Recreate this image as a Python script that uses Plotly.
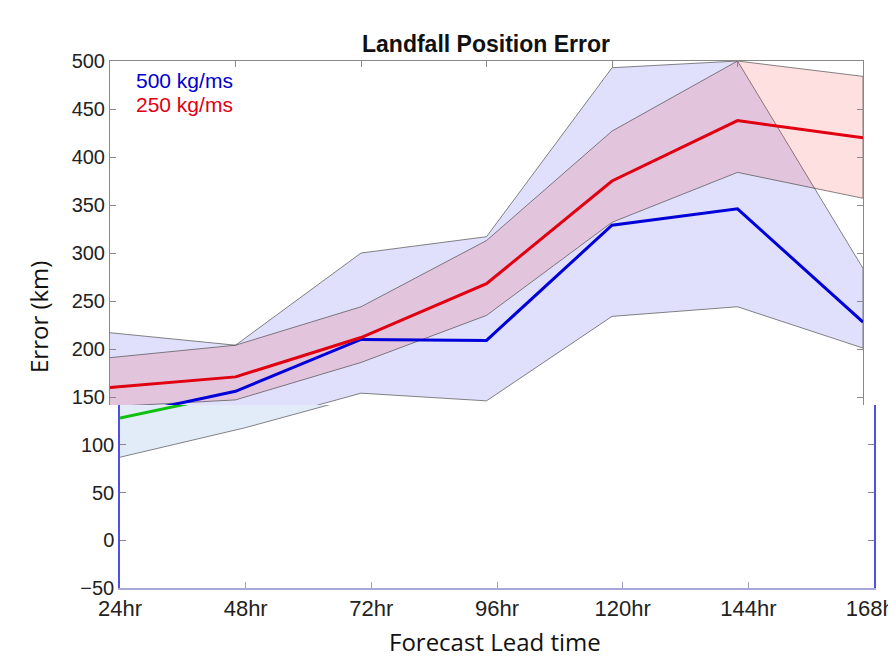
import plotly.graph_objects as go

lead_hours = [24, 48, 72, 96, 120, 144, 168]
tick_labels = ["24hr", "48hr", "72hr", "96hr", "120hr", "144hr", "168hr"]

red_mean = [160, 171, 212, 268, 375, 438, 420]
red_hi = [191, 204, 244, 313, 427, 500, 484]
red_lo = [140, 147, 186, 235, 332, 384, 357]

blue_mean = [128, 156, 210, 209, 329, 346, 228]
blue_hi = [217, 204, 300, 317, 493, 500, 284]
blue_lo = [87, 118, 154, 146, 234, 244, 201]

W, H = 896, 659
OFF = 8  # page body margin


def px(x):
    return (x - OFF) / W


def py(y):
    return 1 - (y - OFF) / H


def band(hi, lo, fill, xa, ya):
    xs = lead_hours + lead_hours[::-1]
    ys = hi + lo[::-1]
    return go.Scatter(x=xs, y=ys, fill="toself", fillcolor=fill, mode="lines",
                      line=dict(color="rgba(60,60,60,0.9)", width=0.7),
                      hoverinfo="skip", showlegend=False, xaxis=xa, yaxis=ya)


fig = go.Figure()
# top panel
fig.add_trace(band(blue_hi, blue_lo, "rgba(0,0,230,0.12)", "x", "y"))
fig.add_trace(band(red_hi, red_lo, "rgba(255,0,0,0.12)", "x", "y"))
fig.add_trace(go.Scatter(x=lead_hours, y=blue_mean, mode="lines",
                         line=dict(color="#0000d8", width=3), showlegend=False,
                         xaxis="x", yaxis="y"))
fig.add_trace(go.Scatter(x=lead_hours, y=red_mean, mode="lines",
                         line=dict(color="#e00010", width=3), showlegend=False,
                         xaxis="x", yaxis="y"))
# bottom panel
fig.add_trace(band(blue_hi, blue_lo, "rgba(226,236,248,1)", "x2", "y2"))
fig.add_trace(go.Scatter(x=lead_hours, y=blue_mean, mode="lines",
                         line=dict(color="#10c010", width=3), showlegend=False,
                         xaxis="x2", yaxis="y2"))

tickfont = dict(family="Liberation Sans, Arial, sans-serif", size=20, color="#222")
xtickfont = dict(family="Liberation Sans Narrow, Arial Narrow, Liberation Sans, sans-serif",
                 size=22, color="#222")

fig.update_layout(
    width=W, height=H,
    margin=dict(l=0, r=0, t=0, b=0, autoexpand=False),
    paper_bgcolor="white", plot_bgcolor="white",
    xaxis=dict(domain=[px(110), px(863)], range=[24, 168], anchor="y", side="top",
               showline=True, linecolor="#888", linewidth=1, mirror=False,
               ticks="inside", ticklen=6, tickcolor="#888", automargin=False,
               tickvals=lead_hours, showticklabels=False, showgrid=False, zeroline=False),
    yaxis=dict(domain=[py(405), py(61)], range=[141.7, 500], anchor="x",
               showline=True, linecolor="#888", linewidth=1, mirror="ticks",
               ticks="inside", ticklen=6, tickcolor="#888", automargin=False,
               tickvals=[150, 200, 250, 300, 350, 400, 450, 500],
               tickfont=tickfont, showgrid=False, zeroline=False),
    xaxis2=dict(domain=[px(120), px(874)], range=[24, 168], anchor="y2",
                showline=True, linecolor="#a8a8d8", linewidth=1.5,
                ticks="inside", ticklen=6, tickcolor="#a0a0c0", automargin=False,
                ticklabeloverflow="allow",
                tickvals=lead_hours, ticktext=tick_labels, tickfont=xtickfont,
                showgrid=False, zeroline=False),
    yaxis2=dict(domain=[py(588), py(405)], range=[-50, 141.7], anchor="x2",
                showline=True, linecolor="#5050e8", linewidth=1.5, mirror="ticks",
                ticks="inside", ticklen=6, tickcolor="#888", automargin=False,
                tickvals=[-50, 0, 50, 100], tickfont=tickfont,
                showgrid=False, zeroline=False),
)

fig.add_annotation(text="<b>Landfall Position Error</b>", x=px(486), y=py(44),
                   xref="paper", yref="paper", showarrow=False,
                   xanchor="center", yanchor="middle",
                   font=dict(family="Liberation Sans, Arial, sans-serif", size=23, color="#111"))
fig.add_annotation(text="Error (km)", x=px(39), y=py(317), xref="paper", yref="paper",
                   showarrow=False, textangle=-90, xanchor="center", yanchor="middle",
                   font=dict(family="Open Sans, sans-serif", size=24, color="#111"))
fig.add_annotation(text="Forecast Lead time", x=px(495), y=py(641),
                   xref="paper", yref="paper", showarrow=False,
                   xanchor="center", yanchor="middle",
                   font=dict(family="Open Sans, sans-serif", size=24, color="#111"))
fig.add_annotation(text="500 kg/ms", x=px(134), y=py(80), xref="paper", yref="paper",
                   xanchor="left", yanchor="middle", showarrow=False,
                   font=dict(family="Liberation Sans, Arial, sans-serif", size=21, color="#0000d0"))
fig.add_annotation(text="250 kg/ms", x=px(134), y=py(104), xref="paper", yref="paper",
                   xanchor="left", yanchor="middle", showarrow=False,
                   font=dict(family="Liberation Sans, Arial, sans-serif", size=21, color="#e00010"))

fig.write_html("out.html")
